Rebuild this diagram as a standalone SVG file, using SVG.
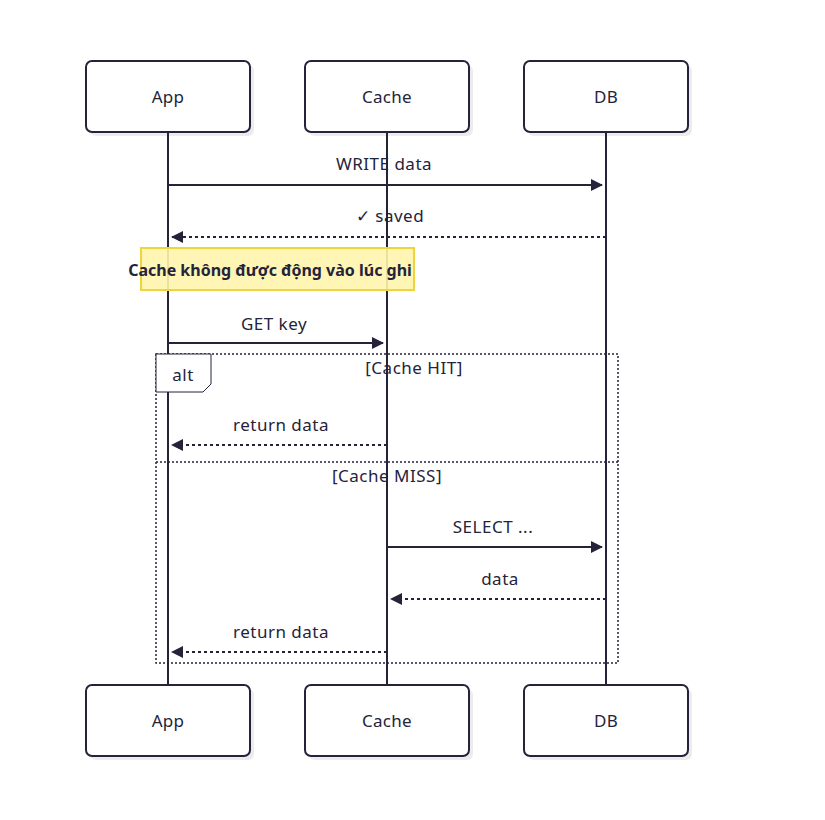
<svg xmlns="http://www.w3.org/2000/svg" width="825" height="820" viewBox="0 0 825 820">
<style>
.actor rect.b{fill:#fff;stroke:#25233a;stroke-width:2}
.actor rect.s{fill:#ececee}
.t{font-family:"Noto Sans","Open Sans",sans-serif;font-size:16px;fill:#25233a;text-anchor:middle}
.a{font-size:17px;letter-spacing:0.3px}
.l{font-size:17px;letter-spacing:0.5px}
.life{stroke:#25233a;stroke-width:2}
.msg{stroke:#25233a;stroke-width:2;fill:none}
.dash{stroke-dasharray:3,3}
.frame{fill:none;stroke:#25233a;stroke-width:1.5;stroke-dasharray:2,2}
</style>
<defs>
<marker id="ah" viewBox="0 0 12 12" refX="11" refY="6" markerWidth="12" markerHeight="12" markerUnits="userSpaceOnUse" orient="auto">
<path d="M0,0 L12,6 L0,12 z" fill="#25233a"/>
</marker>
</defs>
<rect width="825" height="820" fill="#fff"/>
<g id="app-top" class="actor"><rect class="s" x="90" y="65" width="164" height="71" rx="6"/><rect class="b" x="86" y="61" width="164" height="71" rx="6"/><text class="t a" x="168" y="103">App</text></g>
<g id="cache-top" class="actor"><rect class="s" x="309" y="65" width="164" height="71" rx="6"/><rect class="b" x="305" y="61" width="164" height="71" rx="6"/><text class="t a" x="387" y="103">Cache</text></g>
<g id="db-top" class="actor"><rect class="s" x="528" y="65" width="164" height="71" rx="6"/><rect class="b" x="524" y="61" width="164" height="71" rx="6"/><text class="t a" x="606" y="103">DB</text></g>
<g id="app-bottom" class="actor"><rect class="s" x="90" y="689" width="164" height="71" rx="6"/><rect class="b" x="86" y="685" width="164" height="71" rx="6"/><text class="t a" x="168" y="727">App</text></g>
<g id="cache-bottom" class="actor"><rect class="s" x="309" y="689" width="164" height="71" rx="6"/><rect class="b" x="305" y="685" width="164" height="71" rx="6"/><text class="t a" x="387" y="727">Cache</text></g>
<g id="db-bottom" class="actor"><rect class="s" x="528" y="689" width="164" height="71" rx="6"/><rect class="b" x="524" y="685" width="164" height="71" rx="6"/><text class="t a" x="606" y="727">DB</text></g>
<g id="lifelines">
<line class="life" x1="168" y1="133" x2="168" y2="684"/>
<line class="life" x1="387" y1="133" x2="387" y2="684"/>
<line class="life" x1="606" y1="133" x2="606" y2="684"/>
</g>
<g id="note"><rect x="141" y="248" width="273" height="42" fill="#fff5ad" fill-opacity="0.9" stroke="#f0d43c" stroke-width="2"/><text class="t" x="270" y="276" font-weight="bold">Cache không được động vào lúc ghi</text></g>
<g id="alt-frame">
<rect class="frame" x="156" y="354" width="462" height="309"/>
<path d="M156,354 H211 V384 L203,392 H156 Z" fill="#fff" stroke="#25233a" stroke-width="1"/>
<text class="t l" x="183" y="381">alt</text>
<text class="t l" x="414" y="374">[Cache HIT]</text>
<line class="frame" x1="156" y1="462" x2="618" y2="462" stroke-dasharray="3,3"/>
<text class="t l" x="387" y="482">[Cache MISS]</text>
</g>
<g id="connectors">
<line class="msg" x1="168" y1="185" x2="602" y2="185" marker-end="url(#ah)"/>
<text class="t l" x="384" y="170">WRITE data</text>
<line class="msg dash" x1="606" y1="237" x2="172" y2="237" marker-end="url(#ah)"/>
<text class="t l" x="390" y="222">✓ saved</text>
<line class="msg" x1="168" y1="343" x2="383" y2="343" marker-end="url(#ah)"/>
<text class="t l" x="274" y="330">GET key</text>
<line class="msg dash" x1="387" y1="445" x2="172" y2="445" marker-end="url(#ah)"/>
<text class="t l" x="281" y="431">return data</text>
<line class="msg" x1="387" y1="547" x2="602" y2="547" marker-end="url(#ah)"/>
<text class="t l" x="493" y="533">SELECT ...</text>
<line class="msg dash" x1="606" y1="599" x2="391" y2="599" marker-end="url(#ah)"/>
<text class="t l" x="500" y="585">data</text>
<line class="msg dash" x1="387" y1="652" x2="172" y2="652" marker-end="url(#ah)"/>
<text class="t l" x="281" y="638">return data</text>
</g>
</svg>
